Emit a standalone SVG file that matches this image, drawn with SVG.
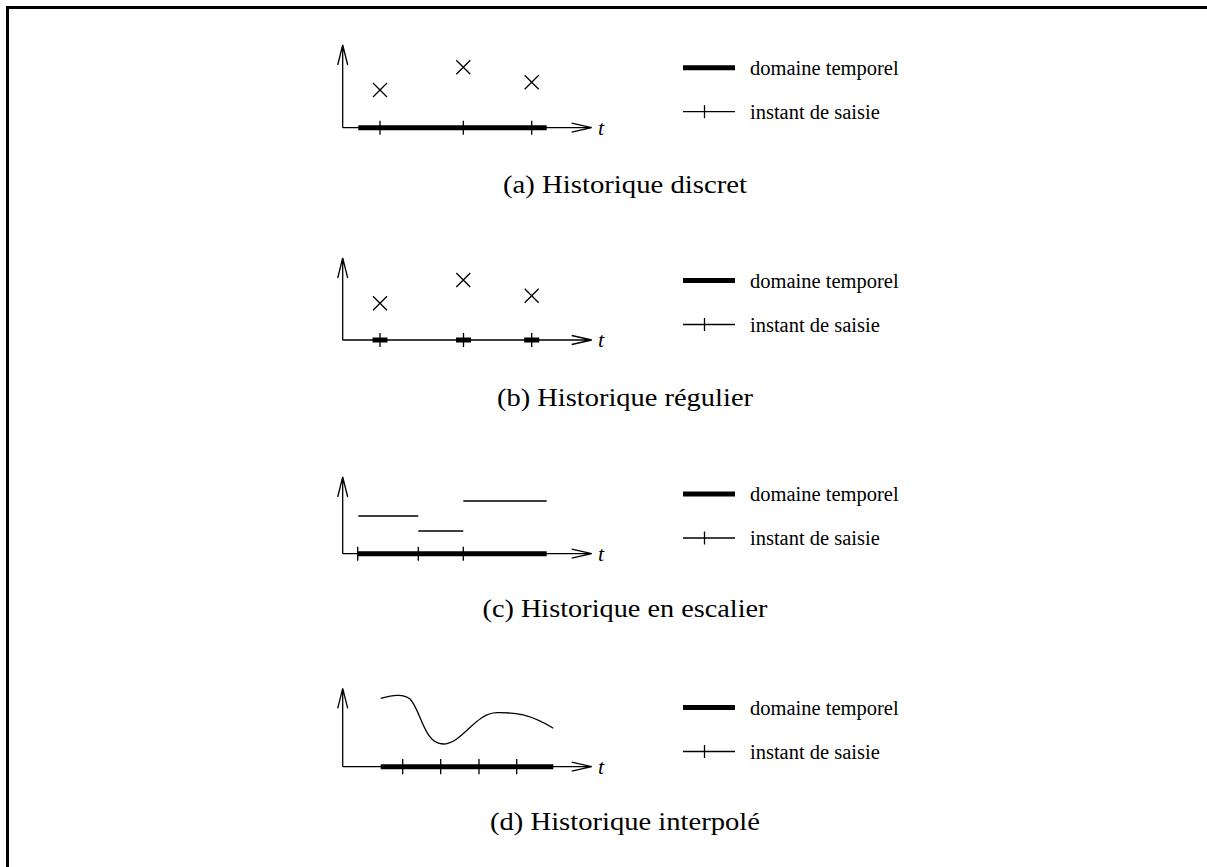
<svg xmlns="http://www.w3.org/2000/svg" width="1207" height="867" viewBox="0 0 1207 867">
<style>
.ln{stroke:#000;stroke-width:1.3;fill:none}
.thick{stroke:#000;stroke-width:5;fill:none}
.leg{font-family:"Liberation Serif","Times New Roman",serif;font-size:20.5px;fill:#000}
.cap{font-family:"Liberation Serif","Times New Roman",serif;font-size:26px;fill:#000;text-anchor:middle}
.tt{font-family:"Liberation Serif","Times New Roman",serif;font-size:22px;font-style:italic;fill:#000}
</style>
<defs>
<g id="legend">
<line class="thick" x1="683" y1="0" x2="735" y2="0"/>
<text class="leg" x="750" y="7">domaine temporel</text>
<line class="ln" x1="683" y1="44" x2="735" y2="44"/>
<line class="ln" x1="704.5" y1="37.5" x2="704.5" y2="50.5"/>
<text class="leg" x="750" y="51">instant de saisie</text>
</g>
</defs>
<rect width="1207" height="867" fill="#fff"/>
<g id="frame">
<line x1="6" y1="7.5" x2="1207" y2="7.5" stroke="#000" stroke-width="3"/>
<line x1="7.5" y1="6" x2="7.5" y2="867" stroke="#000" stroke-width="3"/>
</g>

<g id="panel-a">
<path class="ln" d="M342.7,127.7 V45 M337.7,65 L342.7,45 L347.7,65"/>
<path class="ln" d="M342.7,127.7 H591.7 M571.7,123.2 L591.7,127.7 L571.7,132.2"/>
<line class="thick" x1="358.3" y1="127.7" x2="546.7" y2="127.7"/>
<path class="ln" d="M380,120.7 V134.7 M463.3,120.7 V134.7 M531.7,120.7 V134.7"/>
<path class="ln" d="M373,83 L387,97 M373,97 L387,83"/>
<path class="ln" d="M456.3,60.3 L470.3,74.3 M456.3,74.3 L470.3,60.3"/>
<path class="ln" d="M524.7,75.3 L538.7,89.3 M524.7,89.3 L538.7,75.3"/>
<text class="tt" x="598" y="135">t</text>
<use href="#legend" transform="translate(0,67.7)"/>
<text class="cap" x="625" y="193" textLength="244" lengthAdjust="spacingAndGlyphs">(a) Historique discret</text>
</g>

<g id="panel-b">
<path class="ln" d="M342.7,340 V258 M337.7,278 L342.7,258 L347.7,278"/>
<path class="ln" d="M342.7,340 H591.7 M571.7,335.5 L591.7,340 L571.7,344.5"/>
<path class="thick" d="M372.5,340 H387.5 M456,340 H471 M524.2,340 H539.2"/>
<path class="ln" d="M380,333 V347 M463.5,333 V347 M531.7,333 V347"/>
<path class="ln" d="M373,296.3 L387,310.3 M373,310.3 L387,296.3"/>
<path class="ln" d="M456.3,273 L470.3,287 M456.3,287 L470.3,273"/>
<path class="ln" d="M524.7,288.7 L538.7,302.7 M524.7,302.7 L538.7,288.7"/>
<text class="tt" x="598" y="347.3">t</text>
<use href="#legend" transform="translate(0,280.5)"/>
<text class="cap" x="625" y="406" textLength="256" lengthAdjust="spacingAndGlyphs">(b) Historique régulier</text>
</g>

<g id="panel-c">
<path class="ln" d="M342.7,553.7 V477 M337.7,497 L342.7,477 L347.7,497"/>
<path class="ln" d="M342.7,553.7 H591.7 M571.7,549.2 L591.7,553.7 L571.7,558.2"/>
<line class="thick" x1="357.7" y1="553.7" x2="546.7" y2="553.7"/>
<path class="ln" d="M357.7,546.7 V560.7 M418.3,546.7 V560.7 M463.3,546.7 V560.7"/>
<path class="ln" d="M358.3,516 H418.3 M418.3,531 H463.3 M463.3,501 H546.7"/>
<text class="tt" x="598" y="561">t</text>
<use href="#legend" transform="translate(0,494)"/>
<text class="cap" x="625" y="617" textLength="285" lengthAdjust="spacingAndGlyphs">(c) Historique en escalier</text>
</g>

<g id="panel-d">
<path class="ln" d="M342.7,766.7 V688.3 M337.7,708.3 L342.7,688.3 L347.7,708.3"/>
<path class="ln" d="M342.7,766.7 H591.7 M571.7,762.2 L591.7,766.7 L571.7,771.2"/>
<line class="thick" x1="380.7" y1="766.7" x2="553.3" y2="766.7"/>
<path class="ln" d="M402.7,759 V774.3 M440.7,759 V774.3 M479,759 V774.3 M516.7,759 V774.3"/>
<path class="ln" d="M380.7,698.3 C392,695.5 403,693 410,699 C421,710 424,744 443,744 C462,744 475,713 497,712.7 C515,712.3 530,714 553.3,728.3"/>
<text class="tt" x="598" y="774">t</text>
<use href="#legend" transform="translate(0,707.5)"/>
<text class="cap" x="625" y="830" textLength="270" lengthAdjust="spacingAndGlyphs">(d) Historique interpolé</text>
</g>
</svg>
